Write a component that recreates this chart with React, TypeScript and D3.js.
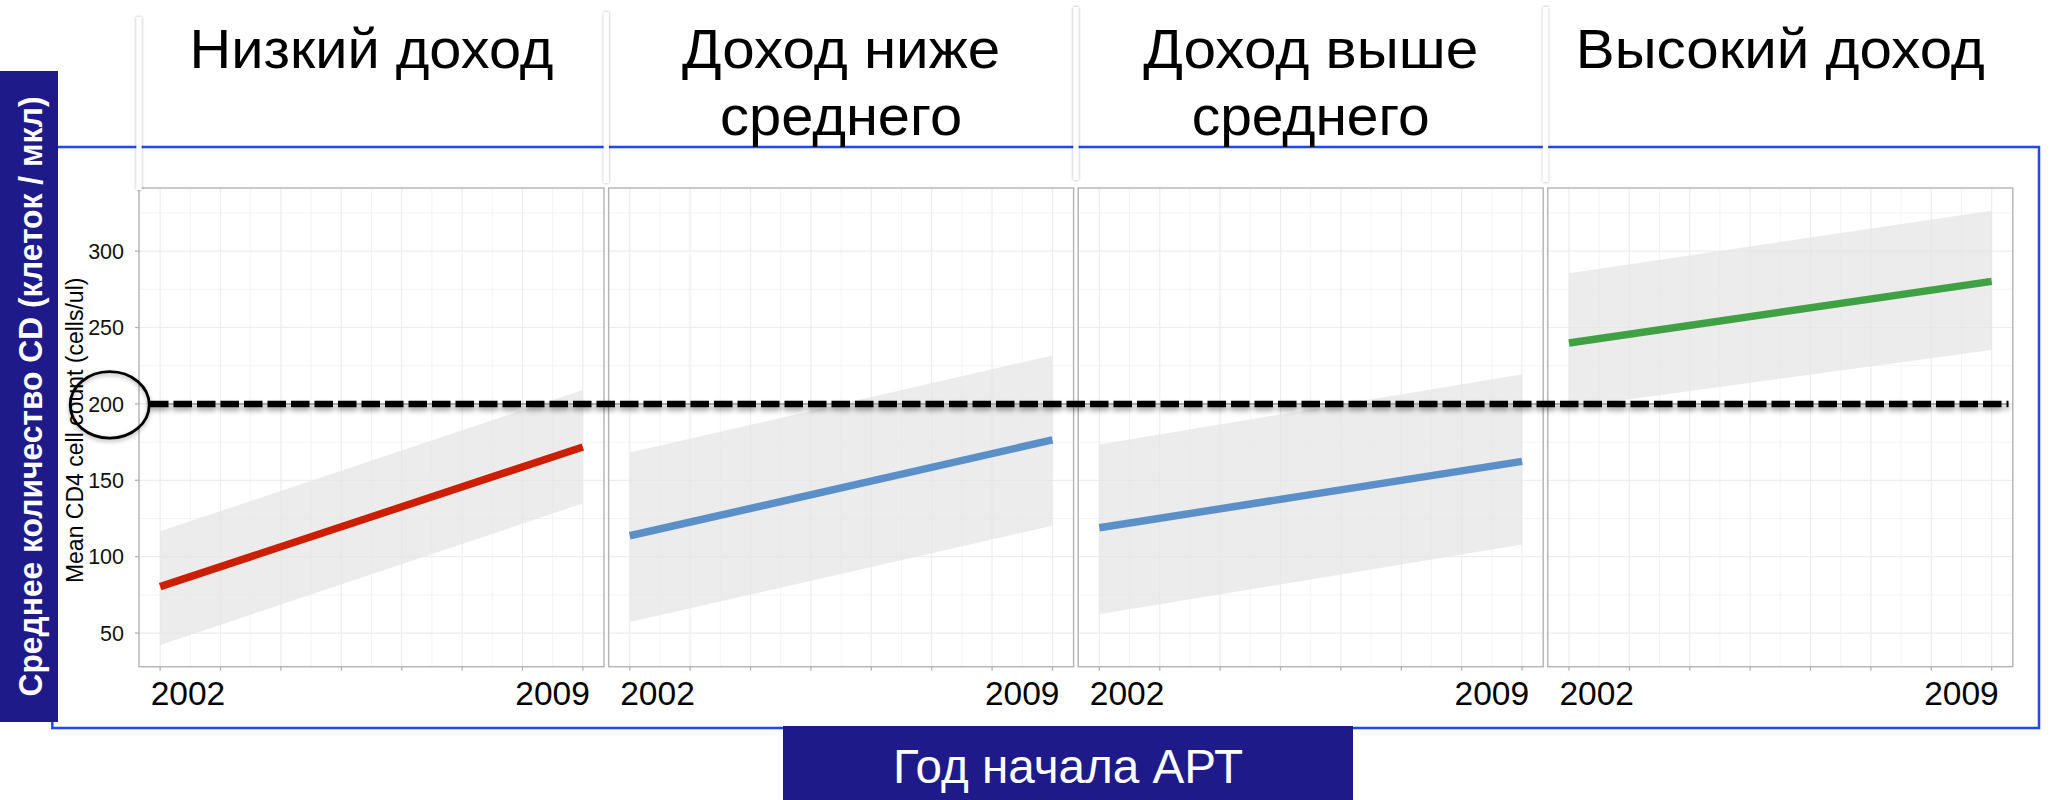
import React, { useEffect } from "react";
import * as d3 from "d3";

// ---------- data ----------
const panelTitles: string[][] = [
  ["Низкий доход"],
  ["Доход ниже", "среднего"],
  ["Доход выше", "среднего"],
  ["Высокий доход"],
];
const startYear = 2002;
const endYear = 2009;
const fitStart = [80.4, 113.7, 118.9, 239.9];
const fitEnd = [171.8, 176.4, 162.4, 280.2];
const ciLowStart = [42.2, 57.2, 62.3, 197.6];
const ciLowEnd = [134.8, 120.3, 107.9, 235.3];
const ciHighStart = [116.6, 168.2, 173.4, 285.5];
const ciHighEnd = [209.1, 231.7, 219.4, 326.4];
const lineColors = ["#cc1f00", "#5b8fc8", "#5b8fc8", "#3fa144"];
const yTickValues = [50, 100, 150, 200, 250, 300];
const xLabelYears = [2002, 2009];
const threshold = 200;
const yAxisTitle = "Mean CD4 cell count (cells/ul)";
const leftTitle = "Среднее количество CD (клеток / мкл)";
const bottomTitle = "Год начала АРТ";

// ---------- layout ----------
const W = 2050;
const H = 800;
const P0 = 139;
const STEP = 469.6;
const PW = 465;
const PT = 188;
const PB = 666.7;
const FONT = "'Liberation Sans', Arial, Helvetica, sans-serif";
const titleWidths = [[364], [318, 242], [335, 238], [409]];
const sepTops = [17, 12, 7, 7];
const sepBottoms = [190, 183, 180, 182];

type Row = { yr: number; lo: number; hi: number; fit: number };

export default function App() {
  useEffect(() => {
    document.body.style.margin = "0";
  }, []);

  const y = d3.scaleLinear().domain([28.0, 341.3]).range([PB, PT]);
  const xDomain: [number, number] = [2001.65, 2009.35];
  const yMinor = d3.range(75, 341, 50);
  const xMajor = d3.range(2002, 2010);
  const xMinor = d3.range(2002.5, 2009, 1);

  const panels = panelTitles.map((t, i) => {
    const left = P0 + i * STEP;
    const x = d3.scaleLinear().domain(xDomain).range([left, left + PW]);
    const rows: Row[] = [
      { yr: startYear, lo: ciLowStart[i], hi: ciHighStart[i], fit: fitStart[i] },
      { yr: endYear, lo: ciLowEnd[i], hi: ciHighEnd[i], fit: fitEnd[i] },
    ];
    const area = d3
      .area<Row>()
      .x((d) => x(d.yr))
      .y0((d) => y(d.lo))
      .y1((d) => y(d.hi));
    const line = d3
      .line<Row>()
      .x((d) => x(d.yr))
      .y((d) => y(d.fit));
    return { left, x, rows, area, line, title: t, i };
  });

  const yThr = y(threshold);

  return (
    <svg
      width={W}
      height={H}
      style={{ position: "absolute", left: 0, top: 0, background: "#fff" }}
    >
      <defs>
        <filter id="dashShadow" filterUnits="userSpaceOnUse" x="100" y={yThr - 20} width="1950" height="45">
          <feDropShadow dx="0" dy="3.5" stdDeviation="2.5" floodColor="#000" floodOpacity="0.35" />
        </filter>
        <filter id="sepShadow" filterUnits="userSpaceOnUse" x="0" y="0" width={W} height="220">
          <feDropShadow dx="0" dy="0" stdDeviation="1.6" floodColor="#000" floodOpacity="0.35" />
        </filter>
        <filter id="circShadow" filterUnits="userSpaceOnUse" x="50" y={yThr - 60} width="130" height="130">
          <feDropShadow dx="0" dy="2" stdDeviation="2" floodColor="#000" floodOpacity="0.3" />
        </filter>
      </defs>
      <rect x={0} y={0} width={W} height={H} fill="#fff" />

      {/* outer blue frame */}
      <rect x={52.3} y={147} width={2039 - 52.3} height={728 - 147} fill="none" stroke="#1f48f0" strokeWidth={2.5} />

      {/* panels */}
      {panels.map((p) => (
        <g key={p.i}>
          <rect x={p.left} y={PT} width={PW} height={PB - PT} fill="#fff" />
          {yMinor.map((v) => (
            <line key={"ym" + v} x1={p.left} x2={p.left + PW} y1={y(v)} y2={y(v)} stroke="#f4f4f4" strokeWidth={1} />
          ))}
          {xMinor.map((v) => (
            <line key={"xm" + v} x1={p.x(v)} x2={p.x(v)} y1={PT} y2={PB} stroke="#f4f4f4" strokeWidth={1} />
          ))}
          {yTickValues.map((v) => (
            <line key={"yM" + v} x1={p.left} x2={p.left + PW} y1={y(v)} y2={y(v)} stroke="#ededed" strokeWidth={1.2} />
          ))}
          {xMajor.map((v) => (
            <line key={"xM" + v} x1={p.x(v)} x2={p.x(v)} y1={PT} y2={PB} stroke="#ededed" strokeWidth={1.2} />
          ))}
          <path d={p.area(p.rows) || ""} fill="#e4e4e4" fillOpacity={0.72} />
          <path d={p.line(p.rows) || ""} fill="none" stroke={lineColors[p.i]} strokeWidth={7.5} />
          <rect x={p.left} y={PT} width={PW} height={PB - PT} fill="none" stroke="#b3b3b3" strokeWidth={1.4} />
          {xMajor.map((v) => (
            <line key={"xt" + v} x1={p.x(v)} x2={p.x(v)} y1={PB} y2={PB + 4} stroke="#b3b3b3" strokeWidth={1.3} />
          ))}
          {xLabelYears.map((v, k) => (
            <text
              key={"xl" + v}
              x={k === 0 ? p.x(v) - 9.5 : p.x(v) + 7}
              y={705}
              textAnchor={k === 0 ? "start" : "end"}
              fontFamily={FONT}
              fontSize={33.5}
              fill="#000"
            >
              {String(v)}
            </text>
          ))}
        </g>
      ))}

      {/* y axis ticks & labels on first panel */}
      {yTickValues.map((v) => (
        <g key={"yl" + v}>
          <line x1={P0 - 4} x2={P0} y1={y(v)} y2={y(v)} stroke="#b3b3b3" strokeWidth={1.3} />
          <text x={124} y={y(v)} dy="0.36em" textAnchor="end" fontFamily={FONT} fontSize={21.5} fill="#111">
            {String(v)}
          </text>
        </g>
      ))}
      <text
        transform={`translate(83, ${(PT + PB) / 2 + 3}) rotate(-90)`}
        textAnchor="middle"
        fontFamily={FONT}
        fontSize={23}
        fill="#000"
      >
        {yAxisTitle}
      </text>

      {/* strip cover separators */}
      {panels.map((p) => {
        const cx = p.i === 0 ? p.left : p.left - 2.3;
        return (
          <rect
            key={"sep" + p.i}
            x={cx - 2.6}
            y={sepTops[p.i]}
            width={5.2}
            height={sepBottoms[p.i] - sepTops[p.i]}
            fill="#fff"
            filter="url(#sepShadow)"
          />
        );
      })}

      {/* titles */}
      {panels.map((p) =>
        p.title.map((line, k) => (
          <text
            key={"t" + p.i + k}
            x={p.left + PW / 2}
            y={68 + k * 66.5}
            textAnchor="middle"
            fontFamily={FONT}
            fontSize={56}
            fill="#000"
            textLength={titleWidths[p.i][k]}
            lengthAdjust="spacingAndGlyphs"
          >
            {line}
          </text>
        ))
      )}

      {/* threshold line */}
      <g filter="url(#dashShadow)">
        <line x1={150} x2={2008.5} y1={yThr} y2={yThr} stroke="#a8a8a8" strokeWidth={2} />
        <line x1={150} x2={2008.5} y1={yThr} y2={yThr} stroke="#000" strokeWidth={6.5} strokeDasharray="18.5 5" />
      </g>

      {/* circle marker */}
      <ellipse
        cx={109.7}
        cy={yThr + 1}
        rx={39.5}
        ry={33.2}
        fill="none"
        stroke="#000"
        strokeWidth={2.8}
        filter="url(#circShadow)"
      />

      {/* left title box */}
      <rect x={0} y={71} width={58} height={722 - 71} fill="#1e1a8a" />
      <text
        transform={`translate(42, ${(71 + 722) / 2}) rotate(-90)`}
        textAnchor="middle"
        fontFamily={FONT}
        fontWeight="bold"
        fontSize={33}
        fill="#fff"
        textLength={600}
        lengthAdjust="spacingAndGlyphs"
      >
        {leftTitle}
      </text>

      {/* bottom title box */}
      <rect x={783} y={726} width={1353 - 783} height={H - 726} fill="#1e1a8a" />
      <text
        x={(783 + 1353) / 2}
        y={783}
        textAnchor="middle"
        fontFamily={FONT}
        fontSize={48}
        fill="#fff"
        textLength={350}
        lengthAdjust="spacingAndGlyphs"
      >
        {bottomTitle}
      </text>
    </svg>
  );
}
